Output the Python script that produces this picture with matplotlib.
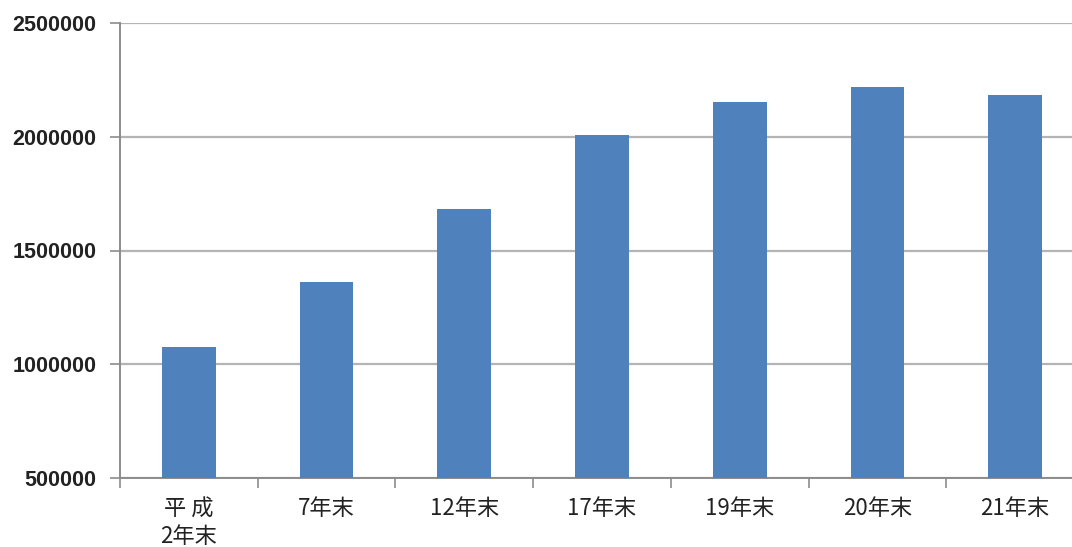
import matplotlib
matplotlib.use("Agg")
import matplotlib.pyplot as plt
from matplotlib.ticker import FixedLocator, NullFormatter

# Year-end figures
categories = ["平 成\n2年末", "7年末", "12年末", "17年末", "19年末", "20年末", "21年末"]
values = [1076000, 1362000, 1683000, 2008000, 2153000, 2217000, 2182000]
y_ticks = [500000, 1000000, 1500000, 2000000, 2500000]
y_tick_labels = ["500000", "1000000", "1500000", "2000000", "2500000"]

BAR_COLOR = "#4F81BD"
GRID_COLOR = "#B4B4B4"
AXIS_COLOR = "#8C8C8C"

fig = plt.figure(figsize=(10.72, 5.47), dpi=100)
# plot area runs slightly past the right edge of the canvas
ax = fig.add_axes([120 / 1072, 69 / 547, 964 / 1072, 455 / 547])

x = list(range(len(categories)))
ax.bar(x, values, width=0.39, color=BAR_COLOR, zorder=3)

ax.set_xlim(-0.5, len(categories) - 0.5)
ax.set_ylim(y_ticks[0], y_ticks[-1])

ax.set_yticks(y_ticks)
ax.set_yticklabels(y_tick_labels)
ax.yaxis.grid(True, color=GRID_COLOR, linewidth=1.6, zorder=0)
ax.set_axisbelow(True)

# category labels at centers, tick marks at boundaries
ax.xaxis.set_major_locator(FixedLocator([i - 0.5 for i in range(len(categories) + 1)]))
ax.xaxis.set_major_formatter(NullFormatter())
ax.xaxis.set_minor_locator(FixedLocator(x))
ax.set_xticklabels(categories, minor=True)
ax.tick_params(axis="x", which="major", length=7, width=1.2, color=AXIS_COLOR, direction="out")
ax.tick_params(axis="x", which="minor", length=0, pad=14)
ax.tick_params(axis="y", length=7, width=1.2, color=AXIS_COLOR, pad=10)

for lbl in ax.get_yticklabels():
    lbl.set_fontfamily(["Liberation Sans", "DejaVu Sans"])
    lbl.set_fontweight("bold")
    lbl.set_fontsize(15.5)
    lbl.set_color("#222222")
for lbl in ax.get_xticklabels(minor=True):
    lbl.set_fontfamily(["Noto Sans CJK JP", "DejaVu Sans"])
    lbl.set_fontsize(16)
    lbl.set_color("#222222")
    lbl.set_linespacing(1.25)
    lbl.set_verticalalignment("top")

for side in ("top", "right"):
    ax.spines[side].set_visible(False)
ax.spines["left"].set_color(AXIS_COLOR)
ax.spines["left"].set_linewidth(1.4)
ax.spines["bottom"].set_color(AXIS_COLOR)
ax.spines["bottom"].set_linewidth(1.4)

fig.savefig("out.png", dpi=100)
